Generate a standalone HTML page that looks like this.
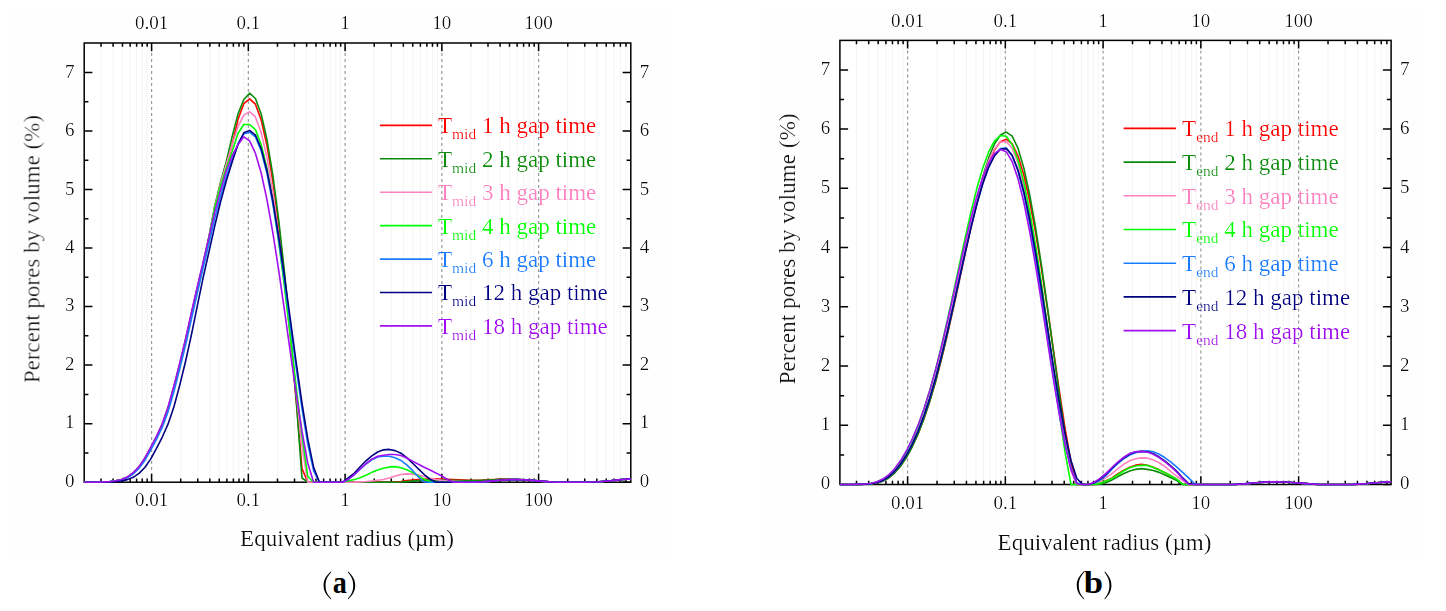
<!DOCTYPE html>
<html><head><meta charset="utf-8"><style>
html,body{margin:0;padding:0;background:#fff;}
svg{display:block;}
text{font-family:"Liberation Serif",serif;}
.tl{font-size:19px;fill:#111;filter:url(#thin);}
.at{font-size:23px;fill:#111;filter:url(#thin);}
.lg{font-size:23px;filter:url(#thin);}
.sb{font-size:15.5px;}
.cap{font-size:31px;fill:#000;}
.mg{stroke:#e8e8e8;stroke-width:1;stroke-dasharray:1 1;}
.Mg{stroke:#9a9a9a;stroke-width:1.2;stroke-dasharray:3 3;stroke-dashoffset:2;}
.cv path{fill:none;stroke-width:1.6;stroke-linejoin:round;}
.tk{stroke:#000;stroke-width:1.5;fill:none;}
.ax{stroke:#000;stroke-width:1.5;fill:none;}
</style></head><body>
<svg width="1446" height="611" viewBox="0 0 1446 611">
<defs><filter id="thin" x="-5%" y="-20%" width="110%" height="140%"><feComponentTransfer><feFuncA type="gamma" amplitude="1" exponent="1.7" offset="0"/></feComponentTransfer></filter></defs>
<rect x="11" y="7" width="658" height="553.5" fill="#fefefe"/>
<rect x="84.2" y="43.0" width="546.5999999999999" height="439.2" fill="#ffffff"/>
<line x1="101.01" y1="43" x2="101.01" y2="482.2" class="mg"/>
<line x1="113.1" y1="43" x2="113.1" y2="482.2" class="mg"/>
<line x1="122.48" y1="43" x2="122.48" y2="482.2" class="mg"/>
<line x1="130.14" y1="43" x2="130.14" y2="482.2" class="mg"/>
<line x1="136.61" y1="43" x2="136.61" y2="482.2" class="mg"/>
<line x1="142.22" y1="43" x2="142.22" y2="482.2" class="mg"/>
<line x1="147.17" y1="43" x2="147.17" y2="482.2" class="mg"/>
<line x1="180.72" y1="43" x2="180.72" y2="482.2" class="mg"/>
<line x1="197.76" y1="43" x2="197.76" y2="482.2" class="mg"/>
<line x1="209.85" y1="43" x2="209.85" y2="482.2" class="mg"/>
<line x1="219.23" y1="43" x2="219.23" y2="482.2" class="mg"/>
<line x1="226.89" y1="43" x2="226.89" y2="482.2" class="mg"/>
<line x1="233.36" y1="43" x2="233.36" y2="482.2" class="mg"/>
<line x1="238.97" y1="43" x2="238.97" y2="482.2" class="mg"/>
<line x1="243.92" y1="43" x2="243.92" y2="482.2" class="mg"/>
<line x1="277.47" y1="43" x2="277.47" y2="482.2" class="mg"/>
<line x1="294.51" y1="43" x2="294.51" y2="482.2" class="mg"/>
<line x1="306.6" y1="43" x2="306.6" y2="482.2" class="mg"/>
<line x1="315.98" y1="43" x2="315.98" y2="482.2" class="mg"/>
<line x1="323.64" y1="43" x2="323.64" y2="482.2" class="mg"/>
<line x1="330.11" y1="43" x2="330.11" y2="482.2" class="mg"/>
<line x1="335.72" y1="43" x2="335.72" y2="482.2" class="mg"/>
<line x1="340.67" y1="43" x2="340.67" y2="482.2" class="mg"/>
<line x1="374.22" y1="43" x2="374.22" y2="482.2" class="mg"/>
<line x1="391.26" y1="43" x2="391.26" y2="482.2" class="mg"/>
<line x1="403.35" y1="43" x2="403.35" y2="482.2" class="mg"/>
<line x1="412.73" y1="43" x2="412.73" y2="482.2" class="mg"/>
<line x1="420.39" y1="43" x2="420.39" y2="482.2" class="mg"/>
<line x1="426.86" y1="43" x2="426.86" y2="482.2" class="mg"/>
<line x1="432.47" y1="43" x2="432.47" y2="482.2" class="mg"/>
<line x1="437.42" y1="43" x2="437.42" y2="482.2" class="mg"/>
<line x1="470.97" y1="43" x2="470.97" y2="482.2" class="mg"/>
<line x1="488.01" y1="43" x2="488.01" y2="482.2" class="mg"/>
<line x1="500.1" y1="43" x2="500.1" y2="482.2" class="mg"/>
<line x1="509.48" y1="43" x2="509.48" y2="482.2" class="mg"/>
<line x1="517.14" y1="43" x2="517.14" y2="482.2" class="mg"/>
<line x1="523.61" y1="43" x2="523.61" y2="482.2" class="mg"/>
<line x1="529.22" y1="43" x2="529.22" y2="482.2" class="mg"/>
<line x1="534.17" y1="43" x2="534.17" y2="482.2" class="mg"/>
<line x1="567.72" y1="43" x2="567.72" y2="482.2" class="mg"/>
<line x1="584.76" y1="43" x2="584.76" y2="482.2" class="mg"/>
<line x1="596.85" y1="43" x2="596.85" y2="482.2" class="mg"/>
<line x1="606.23" y1="43" x2="606.23" y2="482.2" class="mg"/>
<line x1="613.89" y1="43" x2="613.89" y2="482.2" class="mg"/>
<line x1="620.36" y1="43" x2="620.36" y2="482.2" class="mg"/>
<line x1="625.97" y1="43" x2="625.97" y2="482.2" class="mg"/>
<line x1="151.6" y1="43" x2="151.6" y2="482.2" class="Mg"/>
<line x1="248.35" y1="43" x2="248.35" y2="482.2" class="Mg"/>
<line x1="345.1" y1="43" x2="345.1" y2="482.2" class="Mg"/>
<line x1="441.85" y1="43" x2="441.85" y2="482.2" class="Mg"/>
<line x1="538.6" y1="43" x2="538.6" y2="482.2" class="Mg"/>
<path d="M101.01 482.2v-3.8M101.01 43v3.8M113.1 482.2v-3.8M113.1 43v3.8M122.48 482.2v-3.8M122.48 43v3.8M130.14 482.2v-3.8M130.14 43v3.8M136.61 482.2v-3.8M136.61 43v3.8M142.22 482.2v-3.8M142.22 43v3.8M147.17 482.2v-3.8M147.17 43v3.8M180.72 482.2v-3.8M180.72 43v3.8M197.76 482.2v-3.8M197.76 43v3.8M209.85 482.2v-3.8M209.85 43v3.8M219.23 482.2v-3.8M219.23 43v3.8M226.89 482.2v-3.8M226.89 43v3.8M233.36 482.2v-3.8M233.36 43v3.8M238.97 482.2v-3.8M238.97 43v3.8M243.92 482.2v-3.8M243.92 43v3.8M277.47 482.2v-3.8M277.47 43v3.8M294.51 482.2v-3.8M294.51 43v3.8M306.6 482.2v-3.8M306.6 43v3.8M315.98 482.2v-3.8M315.98 43v3.8M323.64 482.2v-3.8M323.64 43v3.8M330.11 482.2v-3.8M330.11 43v3.8M335.72 482.2v-3.8M335.72 43v3.8M340.67 482.2v-3.8M340.67 43v3.8M374.22 482.2v-3.8M374.22 43v3.8M391.26 482.2v-3.8M391.26 43v3.8M403.35 482.2v-3.8M403.35 43v3.8M412.73 482.2v-3.8M412.73 43v3.8M420.39 482.2v-3.8M420.39 43v3.8M426.86 482.2v-3.8M426.86 43v3.8M432.47 482.2v-3.8M432.47 43v3.8M437.42 482.2v-3.8M437.42 43v3.8M470.97 482.2v-3.8M470.97 43v3.8M488.01 482.2v-3.8M488.01 43v3.8M500.1 482.2v-3.8M500.1 43v3.8M509.48 482.2v-3.8M509.48 43v3.8M517.14 482.2v-3.8M517.14 43v3.8M523.61 482.2v-3.8M523.61 43v3.8M529.22 482.2v-3.8M529.22 43v3.8M534.17 482.2v-3.8M534.17 43v3.8M567.72 482.2v-3.8M567.72 43v3.8M584.76 482.2v-3.8M584.76 43v3.8M596.85 482.2v-3.8M596.85 43v3.8M606.23 482.2v-3.8M606.23 43v3.8M613.89 482.2v-3.8M613.89 43v3.8M620.36 482.2v-3.8M620.36 43v3.8M625.97 482.2v-3.8M625.97 43v3.8M151.6 482.2v-8.2M151.6 43v8.2M248.35 482.2v-8.2M248.35 43v8.2M345.1 482.2v-8.2M345.1 43v8.2M441.85 482.2v-8.2M441.85 43v8.2M538.6 482.2v-8.2M538.6 43v8.2M84.2 482.2h8.2M630.8 482.2h-8.2M84.2 452.93h4.2M630.8 452.93h-4.2M84.2 423.66h8.2M630.8 423.66h-8.2M84.2 394.39h4.2M630.8 394.39h-4.2M84.2 365.12h8.2M630.8 365.12h-8.2M84.2 335.85h4.2M630.8 335.85h-4.2M84.2 306.58h8.2M630.8 306.58h-8.2M84.2 277.31h4.2M630.8 277.31h-4.2M84.2 248.04h8.2M630.8 248.04h-8.2M84.2 218.77h4.2M630.8 218.77h-4.2M84.2 189.5h8.2M630.8 189.5h-8.2M84.2 160.23h4.2M630.8 160.23h-4.2M84.2 130.96h8.2M630.8 130.96h-8.2M84.2 101.69h4.2M630.8 101.69h-4.2M84.2 72.42h8.2M630.8 72.42h-8.2" class="tk"/>
<rect x="84.2" y="43" width="546.6" height="439.2" class="ax"/>
<g class="cv"><path d="M84.2 482.2 L86.64 482.2 L92.46 482.2 L98.28 482.17 L104.1 481.93 L109.92 481.53 L115.74 480.81 L121.56 479.52 L127.38 477.14 L133.2 473.07 L139.02 467.07 L144.84 458.66 L150.66 448.15 L156.48 437.14 L162.3 424.56 L168.12 408.14 L173.94 387.34 L179.76 364.48 L185.58 340.36 L191.4 314.31 L197.22 288.76 L203.04 264.36 L208.86 237.8 L214.68 207.6 L220.5 185.13 L226.32 166.64 L232.14 145.02 L237.96 119.56 L243.78 103.68 L249.6 98.88 L255.42 104.21 L261.24 120.05 L267.06 146.02 L272.88 181.48 L278.7 225.58 L284.52 277.29 L290.34 335.5 L296.16 399.17 L301.98 468.5 L307.8 482.2 L313.62 482.2 L319.44 482.2 L325.26 482.2 L331.08 482.2 L336.9 482.2 L342.72 482.2 L348.54 482.2 L354.36 482.2 L360.18 482.2 L366 482.2 L371.82 482.2 L377.64 482.2 L383.46 482.2 L389.28 482.2 L395.1 482.19 L400.92 481.5 L406.74 480.55 L412.56 480.04 L418.38 479.58 L424.2 479.19 L430.02 478.98 L435.84 478.98 L441.66 479.11 L447.48 479.37 L453.3 479.61 L459.12 479.83 L464.94 480.02 L470.76 480.18 L476.58 480.27 L482.4 480.15 L488.22 479.84 L494.04 479.46 L499.86 479.12 L505.68 478.95 L511.5 479.03 L517.32 479.39 L523.14 479.77 L528.96 480.14 L534.78 480.63 L540.6 481.17 L546.42 481.65 L552.24 482.01 L558.06 482.19 L563.88 482.2 L569.7 482.2 L575.52 482.2 L581.34 482.2 L587.16 482.2 L592.98 482.06 L598.8 481.74 L604.62 481.27 L610.44 480.7 L616.26 480.11 L622.08 479.56 L627.9 479.11 L630.8 478.93" stroke="#ff0000"/>
<path d="M84.2 482.2 L86.64 482.2 L92.46 482.2 L98.28 482.16 L104.1 481.92 L109.92 481.53 L115.74 480.79 L121.56 479.5 L127.38 477.08 L133.2 472.98 L139.02 466.96 L144.84 458.49 L150.66 447.97 L156.48 436.94 L162.3 424.32 L168.12 407.81 L173.94 386.96 L179.76 364.08 L185.58 339.92 L191.4 313.86 L197.22 288.33 L203.04 264 L208.86 237.06 L214.68 206.13 L220.5 182.38 L226.32 161.4 L232.14 136.59 L237.96 114.09 L243.78 99.55 L249.6 93.2 L255.42 98.48 L261.24 114.2 L267.06 140.05 L272.88 175.49 L278.7 219.84 L284.52 272.32 L290.34 332.22 L296.16 399.33 L301.98 477.98 L307.8 482.2 L313.62 482.2 L319.44 482.2 L325.26 482.2 L331.08 482.2 L336.9 482.2 L342.72 482.2 L348.54 482.2 L354.36 482.2 L360.18 482.2 L366 482.2 L371.82 482.2 L377.64 482.2 L383.46 482.2 L389.28 482.2 L395.1 482.2 L400.92 482 L406.74 481.58 L412.56 481.09 L418.38 480.54 L424.2 480.27 L430.02 480.15 L435.84 480.15 L441.66 480.15 L447.48 480.22 L453.3 480.32 L459.12 480.43 L464.94 480.51 L470.76 480.59 L476.58 480.6 L482.4 480.42 L488.22 480.12 L494.04 479.75 L499.86 479.41 L505.68 479.2 L511.5 479.2 L517.32 479.45 L523.14 479.77 L528.96 480.14 L534.78 480.63 L540.6 481.17 L546.42 481.65 L552.24 482.01 L558.06 482.19 L563.88 482.2 L569.7 482.2 L575.52 482.2 L581.34 482.2 L587.16 482.2 L592.98 482.06 L598.8 481.74 L604.62 481.27 L610.44 480.7 L616.26 480.11 L622.08 479.56 L627.9 479.11 L630.8 478.93" stroke="#0a8c0a"/>
<path d="M84.2 482.2 L86.64 482.2 L92.46 482.2 L98.28 482.17 L104.1 481.93 L109.92 481.53 L115.74 480.81 L121.56 479.52 L127.38 477.14 L133.2 473.07 L139.02 467.07 L144.84 458.66 L150.66 448.15 L156.48 437.14 L162.3 424.56 L168.12 408.14 L173.94 387.34 L179.76 364.48 L185.58 340.36 L191.4 314.31 L197.22 288.76 L203.04 264.36 L208.86 237.85 L214.68 207.74 L220.5 184.08 L226.32 164.26 L232.14 145.29 L237.96 126.6 L243.78 115.17 L249.6 111.64 L255.42 116.93 L261.24 132.6 L267.06 158.13 L272.88 192.64 L278.7 234.94 L284.52 283.52 L290.34 336.55 L296.16 391.84 L301.98 446.43 L307.8 482.2 L313.62 482.2 L319.44 482.2 L325.26 482.2 L331.08 482.2 L336.9 482.2 L342.72 482.2 L348.54 482.2 L354.36 482.15 L360.18 481.9 L366 481.55 L371.82 480.97 L377.64 480.32 L383.46 479.55 L389.28 478.03 L395.1 476.03 L400.92 474.47 L406.74 473.9 L412.56 474.09 L418.38 474.91 L424.2 476.58 L430.02 478.35 L435.84 479.56 L441.66 480.4 L447.48 480.93 L453.3 481.29 L459.12 481.57 L464.94 481.84 L470.76 482.06 L476.58 482.13 L482.4 481.84 L488.22 481.38 L494.04 480.83 L499.86 480.29 L505.68 479.86 L511.5 479.61 L517.32 479.58 L523.14 479.77 L528.96 480.14 L534.78 480.63 L540.6 481.17 L546.42 481.65 L552.24 482.01 L558.06 482.19 L563.88 482.2 L569.7 482.2 L575.52 482.2 L581.34 482.2 L587.16 482.2 L592.98 482.06 L598.8 481.74 L604.62 481.27 L610.44 480.7 L616.26 480.11 L622.08 479.56 L627.9 479.11 L630.8 478.93" stroke="#ff80c0"/>
<path d="M84.2 482.2 L86.64 482.2 L92.46 482.2 L98.28 482.17 L104.1 481.94 L109.92 481.55 L115.74 480.84 L121.56 479.58 L127.38 477.24 L133.2 473.25 L139.02 467.3 L144.84 459 L150.66 448.53 L156.48 437.53 L162.3 425.04 L168.12 408.79 L173.94 388.1 L179.76 365.27 L185.58 341.24 L191.4 315.21 L197.22 289.63 L203.04 265.18 L208.86 238.77 L214.68 208.36 L220.5 186 L226.32 168.22 L232.14 151.66 L237.96 133.53 L243.78 124.52 L249.6 124.52 L255.42 129.59 L261.24 144.6 L267.06 168.98 L272.88 201.8 L278.7 241.76 L284.52 287.24 L290.34 336.3 L296.16 386.59 L301.98 435.11 L307.8 476.51 L313.62 482.2 L319.44 482.2 L325.26 482.2 L331.08 482.2 L336.9 482.2 L342.72 482.2 L348.54 480.76 L354.36 479.46 L360.18 477.79 L366 475.28 L371.82 472.36 L377.64 470.07 L383.46 468.34 L389.28 466.92 L395.1 466.66 L400.92 467.68 L406.74 469.73 L412.56 472.5 L418.38 475.89 L424.2 479.16 L430.02 481.52 L435.84 482.2 L441.66 482.2 L447.48 482.2 L453.3 482.2 L459.12 482.2 L464.94 482.2 L470.76 482.2 L476.58 482.13 L482.4 481.84 L488.22 481.38 L494.04 480.83 L499.86 480.29 L505.68 479.86 L511.5 479.61 L517.32 479.58 L523.14 479.77 L528.96 480.14 L534.78 480.63 L540.6 481.17 L546.42 481.65 L552.24 482.01 L558.06 482.19 L563.88 482.2 L569.7 482.2 L575.52 482.2 L581.34 482.2 L587.16 482.2 L592.98 482.06 L598.8 481.74 L604.62 481.27 L610.44 480.7 L616.26 480.11 L622.08 479.56 L627.9 479.11 L630.8 478.93" stroke="#00ff00"/>
<path d="M84.2 482.2 L86.64 482.2 L92.46 482.2 L98.28 482.19 L104.1 481.99 L109.92 481.62 L115.74 480.99 L121.56 479.8 L127.38 477.7 L133.2 474.01 L139.02 468.32 L144.84 460.47 L150.66 450.21 L156.48 439.28 L162.3 427.16 L168.12 411.64 L173.94 391.5 L179.76 368.84 L185.58 345.14 L191.4 319.26 L197.22 293.53 L203.04 268.65 L208.86 244.16 L214.68 218.8 L220.5 196.11 L226.32 176.6 L232.14 159.72 L237.96 143.97 L243.78 133.9 L249.6 132.13 L255.42 136.9 L261.24 150.99 L267.06 173.75 L272.88 204.09 L278.7 240.56 L284.52 281.4 L290.34 324.54 L296.16 367.71 L301.98 408.43 L307.8 443.96 L313.62 470.94 L319.44 482.2 L325.26 482.2 L331.08 482.2 L336.9 482.2 L342.72 482.2 L348.54 479.19 L354.36 474.63 L360.18 469.23 L366 463.98 L371.82 459.74 L377.64 457.02 L383.46 456.24 L389.28 456.21 L395.1 457.83 L400.92 460.46 L406.74 464.84 L412.56 470.42 L418.38 477 L424.2 482.04 L430.02 482.2 L435.84 482.2 L441.66 482.2 L447.48 482.2 L453.3 482.2 L459.12 482.2 L464.94 482.2 L470.76 482.2 L476.58 482.13 L482.4 481.84 L488.22 481.38 L494.04 480.83 L499.86 480.29 L505.68 479.86 L511.5 479.61 L517.32 479.58 L523.14 479.77 L528.96 480.14 L534.78 480.63 L540.6 481.17 L546.42 481.65 L552.24 482.01 L558.06 482.19 L563.88 482.2 L569.7 482.2 L575.52 482.2 L581.34 482.2 L587.16 482.2 L592.98 482.06 L598.8 481.74 L604.62 481.27 L610.44 480.7 L616.26 480.11 L622.08 479.56 L627.9 479.11 L630.8 478.93" stroke="#1a7cff"/>
<path d="M84.2 482.2 L86.64 482.2 L92.46 482.2 L98.28 482.2 L104.1 482.17 L109.92 481.95 L115.74 481.56 L121.56 480.87 L127.38 479.62 L133.2 477.34 L139.02 473.41 L144.84 467.51 L150.66 459.13 L156.48 448.39 L162.3 437.03 L168.12 423.91 L173.94 406.72 L179.76 385.16 L185.58 361.3 L191.4 334.94 L197.22 306.35 L203.04 278.2 L208.86 252.31 L214.68 226.4 L220.5 201.95 L226.32 180.72 L232.14 161.94 L237.96 144.55 L243.78 132.73 L249.6 130.37 L255.42 135.03 L261.24 148.8 L267.06 171.05 L272.88 200.76 L278.7 236.56 L284.52 276.74 L290.34 319.36 L296.16 362.24 L301.98 403.02 L307.8 439.09 L313.62 467.36 L319.44 482.2 L325.26 482.2 L331.08 482.2 L336.9 482.2 L342.72 482.2 L348.54 477.57 L354.36 473.09 L360.18 466.72 L366 460.81 L371.82 455.93 L377.64 451.98 L383.46 449.85 L389.28 449.42 L395.1 450.62 L400.92 453.23 L406.74 457.65 L412.56 463.04 L418.38 468.94 L424.2 474.51 L430.02 479.13 L435.84 482.2 L441.66 482.2 L447.48 482.2 L453.3 482.2 L459.12 482.2 L464.94 482.2 L470.76 482.2 L476.58 482.13 L482.4 481.84 L488.22 481.38 L494.04 480.83 L499.86 480.29 L505.68 479.86 L511.5 479.61 L517.32 479.58 L523.14 479.77 L528.96 480.14 L534.78 480.63 L540.6 481.17 L546.42 481.65 L552.24 482.01 L558.06 482.19 L563.88 482.2 L569.7 482.2 L575.52 482.2 L581.34 482.2 L587.16 482.2 L592.98 482.06 L598.8 481.74 L604.62 481.27 L610.44 480.7 L616.26 480.11 L622.08 479.56 L627.9 479.11 L630.8 478.93" stroke="#000080"/>
<path d="M84.2 482.2 L86.64 482.2 L92.46 482.2 L98.28 482.16 L104.1 481.9 L109.92 481.5 L115.74 480.74 L121.56 479.41 L127.38 476.92 L133.2 472.71 L139.02 466.6 L144.84 457.98 L150.66 447.4 L156.48 436.35 L162.3 423.59 L168.12 406.83 L173.94 385.81 L179.76 362.89 L185.58 338.61 L191.4 312.52 L197.22 287.03 L203.04 262.36 L208.86 237.63 L214.68 212.54 L220.5 190.66 L226.32 171.01 L232.14 155.97 L237.96 144.69 L243.78 136.83 L249.6 140.94 L255.42 153.23 L261.24 173.21 L267.06 200.12 L272.88 232.9 L278.7 270.26 L284.52 310.65 L290.34 352.33 L296.16 393.29 L301.98 431.24 L307.8 463.19 L313.62 482.2 L319.44 482.2 L325.26 482.2 L331.08 482.2 L336.9 482.2 L342.72 482.2 L348.54 479.18 L354.36 474.53 L360.18 469 L366 463.59 L371.82 459.15 L377.64 456.2 L383.46 455.18 L389.28 454.51 L395.1 454.5 L400.92 455.58 L406.74 457.97 L412.56 461.14 L418.38 464.29 L424.2 467.18 L430.02 469.99 L435.84 472.91 L441.66 476.05 L447.48 479.53 L453.3 482.2 L459.12 482.2 L464.94 482.2 L470.76 482.2 L476.58 482.13 L482.4 481.84 L488.22 481.38 L494.04 480.83 L499.86 480.29 L505.68 479.86 L511.5 479.61 L517.32 479.58 L523.14 479.77 L528.96 480.14 L534.78 480.63 L540.6 481.17 L546.42 481.65 L552.24 482.01 L558.06 482.19 L563.88 482.2 L569.7 482.2 L575.52 482.2 L581.34 482.2 L587.16 482.2 L592.98 482.06 L598.8 481.74 L604.62 481.27 L610.44 480.7 L616.26 480.11 L622.08 479.56 L627.9 479.11 L630.8 478.93" stroke="#a010f0"/></g>
<text x="151.6" y="29.4" class="tl" text-anchor="middle">0.01</text>
<text x="151.6" y="506.2" class="tl" text-anchor="middle">0.01</text>
<text x="248.35" y="29.4" class="tl" text-anchor="middle">0.1</text>
<text x="248.35" y="506.2" class="tl" text-anchor="middle">0.1</text>
<text x="345.1" y="29.4" class="tl" text-anchor="middle">1</text>
<text x="345.1" y="506.2" class="tl" text-anchor="middle">1</text>
<text x="441.85" y="29.4" class="tl" text-anchor="middle">10</text>
<text x="441.85" y="506.2" class="tl" text-anchor="middle">10</text>
<text x="538.6" y="29.4" class="tl" text-anchor="middle">100</text>
<text x="538.6" y="506.2" class="tl" text-anchor="middle">100</text>
<text x="74.6" y="486.66" class="tl" text-anchor="end">0</text>
<text x="639.8" y="486.66" class="tl" text-anchor="start">0</text>
<text x="74.6" y="428.24" class="tl" text-anchor="end">1</text>
<text x="639.8" y="428.24" class="tl" text-anchor="start">1</text>
<text x="74.6" y="369.82" class="tl" text-anchor="end">2</text>
<text x="639.8" y="369.82" class="tl" text-anchor="start">2</text>
<text x="74.6" y="311.4" class="tl" text-anchor="end">3</text>
<text x="639.8" y="311.4" class="tl" text-anchor="start">3</text>
<text x="74.6" y="252.98" class="tl" text-anchor="end">4</text>
<text x="639.8" y="252.98" class="tl" text-anchor="start">4</text>
<text x="74.6" y="194.56" class="tl" text-anchor="end">5</text>
<text x="639.8" y="194.56" class="tl" text-anchor="start">5</text>
<text x="74.6" y="136.14" class="tl" text-anchor="end">6</text>
<text x="639.8" y="136.14" class="tl" text-anchor="start">6</text>
<text x="74.6" y="77.72" class="tl" text-anchor="end">7</text>
<text x="639.8" y="77.72" class="tl" text-anchor="start">7</text>
<line x1="379.9" y1="125.4" x2="432" y2="125.4" stroke="#ff0000" stroke-width="1.6"/>
<text x="438" y="133.3" class="lg" fill="#ff0000">T<tspan class="sb" dy="6">mid</tspan><tspan dy="-6"> 1 h gap time</tspan></text>
<line x1="379.9" y1="158.82" x2="432" y2="158.82" stroke="#0a8c0a" stroke-width="1.6"/>
<text x="438" y="166.72" class="lg" fill="#0a8c0a">T<tspan class="sb" dy="6">mid</tspan><tspan dy="-6"> 2 h gap time</tspan></text>
<line x1="379.9" y1="192.24" x2="432" y2="192.24" stroke="#ff80c0" stroke-width="1.6"/>
<text x="438" y="200.14" class="lg" fill="#ff80c0">T<tspan class="sb" dy="6">mid</tspan><tspan dy="-6"> 3 h gap time</tspan></text>
<line x1="379.9" y1="225.66" x2="432" y2="225.66" stroke="#00ff00" stroke-width="1.6"/>
<text x="438" y="233.56" class="lg" fill="#00ff00">T<tspan class="sb" dy="6">mid</tspan><tspan dy="-6"> 4 h gap time</tspan></text>
<line x1="379.9" y1="259.08" x2="432" y2="259.08" stroke="#1a7cff" stroke-width="1.6"/>
<text x="438" y="266.98" class="lg" fill="#1a7cff">T<tspan class="sb" dy="6">mid</tspan><tspan dy="-6"> 6 h gap time</tspan></text>
<line x1="379.9" y1="292.5" x2="432" y2="292.5" stroke="#000080" stroke-width="1.6"/>
<text x="438" y="300.4" class="lg" fill="#000080">T<tspan class="sb" dy="6">mid</tspan><tspan dy="-6"> 12 h gap time</tspan></text>
<line x1="379.9" y1="325.92" x2="432" y2="325.92" stroke="#a010f0" stroke-width="1.6"/>
<text x="438" y="333.82" class="lg" fill="#a010f0">T<tspan class="sb" dy="6">mid</tspan><tspan dy="-6"> 18 h gap time</tspan></text>
<rect x="765" y="7" width="658.5" height="553.5" fill="#fefefe"/>
<rect x="839.9" y="40.4" width="551.1999999999999" height="444.1" fill="#ffffff"/>
<line x1="856.49" y1="40.4" x2="856.49" y2="484.5" class="mg"/>
<line x1="868.7" y1="40.4" x2="868.7" y2="484.5" class="mg"/>
<line x1="878.17" y1="40.4" x2="878.17" y2="484.5" class="mg"/>
<line x1="885.91" y1="40.4" x2="885.91" y2="484.5" class="mg"/>
<line x1="892.46" y1="40.4" x2="892.46" y2="484.5" class="mg"/>
<line x1="898.13" y1="40.4" x2="898.13" y2="484.5" class="mg"/>
<line x1="903.13" y1="40.4" x2="903.13" y2="484.5" class="mg"/>
<line x1="937.03" y1="40.4" x2="937.03" y2="484.5" class="mg"/>
<line x1="954.24" y1="40.4" x2="954.24" y2="484.5" class="mg"/>
<line x1="966.45" y1="40.4" x2="966.45" y2="484.5" class="mg"/>
<line x1="975.92" y1="40.4" x2="975.92" y2="484.5" class="mg"/>
<line x1="983.66" y1="40.4" x2="983.66" y2="484.5" class="mg"/>
<line x1="990.21" y1="40.4" x2="990.21" y2="484.5" class="mg"/>
<line x1="995.88" y1="40.4" x2="995.88" y2="484.5" class="mg"/>
<line x1="1000.88" y1="40.4" x2="1000.88" y2="484.5" class="mg"/>
<line x1="1034.78" y1="40.4" x2="1034.78" y2="484.5" class="mg"/>
<line x1="1051.99" y1="40.4" x2="1051.99" y2="484.5" class="mg"/>
<line x1="1064.2" y1="40.4" x2="1064.2" y2="484.5" class="mg"/>
<line x1="1073.67" y1="40.4" x2="1073.67" y2="484.5" class="mg"/>
<line x1="1081.41" y1="40.4" x2="1081.41" y2="484.5" class="mg"/>
<line x1="1087.96" y1="40.4" x2="1087.96" y2="484.5" class="mg"/>
<line x1="1093.63" y1="40.4" x2="1093.63" y2="484.5" class="mg"/>
<line x1="1098.63" y1="40.4" x2="1098.63" y2="484.5" class="mg"/>
<line x1="1132.53" y1="40.4" x2="1132.53" y2="484.5" class="mg"/>
<line x1="1149.74" y1="40.4" x2="1149.74" y2="484.5" class="mg"/>
<line x1="1161.95" y1="40.4" x2="1161.95" y2="484.5" class="mg"/>
<line x1="1171.42" y1="40.4" x2="1171.42" y2="484.5" class="mg"/>
<line x1="1179.16" y1="40.4" x2="1179.16" y2="484.5" class="mg"/>
<line x1="1185.71" y1="40.4" x2="1185.71" y2="484.5" class="mg"/>
<line x1="1191.38" y1="40.4" x2="1191.38" y2="484.5" class="mg"/>
<line x1="1196.38" y1="40.4" x2="1196.38" y2="484.5" class="mg"/>
<line x1="1230.28" y1="40.4" x2="1230.28" y2="484.5" class="mg"/>
<line x1="1247.49" y1="40.4" x2="1247.49" y2="484.5" class="mg"/>
<line x1="1259.7" y1="40.4" x2="1259.7" y2="484.5" class="mg"/>
<line x1="1269.17" y1="40.4" x2="1269.17" y2="484.5" class="mg"/>
<line x1="1276.91" y1="40.4" x2="1276.91" y2="484.5" class="mg"/>
<line x1="1283.46" y1="40.4" x2="1283.46" y2="484.5" class="mg"/>
<line x1="1289.13" y1="40.4" x2="1289.13" y2="484.5" class="mg"/>
<line x1="1294.13" y1="40.4" x2="1294.13" y2="484.5" class="mg"/>
<line x1="1328.03" y1="40.4" x2="1328.03" y2="484.5" class="mg"/>
<line x1="1345.24" y1="40.4" x2="1345.24" y2="484.5" class="mg"/>
<line x1="1357.45" y1="40.4" x2="1357.45" y2="484.5" class="mg"/>
<line x1="1366.92" y1="40.4" x2="1366.92" y2="484.5" class="mg"/>
<line x1="1374.66" y1="40.4" x2="1374.66" y2="484.5" class="mg"/>
<line x1="1381.21" y1="40.4" x2="1381.21" y2="484.5" class="mg"/>
<line x1="1386.88" y1="40.4" x2="1386.88" y2="484.5" class="mg"/>
<line x1="907.6" y1="40.4" x2="907.6" y2="484.5" class="Mg"/>
<line x1="1005.35" y1="40.4" x2="1005.35" y2="484.5" class="Mg"/>
<line x1="1103.1" y1="40.4" x2="1103.1" y2="484.5" class="Mg"/>
<line x1="1200.85" y1="40.4" x2="1200.85" y2="484.5" class="Mg"/>
<line x1="1298.6" y1="40.4" x2="1298.6" y2="484.5" class="Mg"/>
<path d="M856.49 484.5v-3.8M856.49 40.4v3.8M868.7 484.5v-3.8M868.7 40.4v3.8M878.17 484.5v-3.8M878.17 40.4v3.8M885.91 484.5v-3.8M885.91 40.4v3.8M892.46 484.5v-3.8M892.46 40.4v3.8M898.13 484.5v-3.8M898.13 40.4v3.8M903.13 484.5v-3.8M903.13 40.4v3.8M937.03 484.5v-3.8M937.03 40.4v3.8M954.24 484.5v-3.8M954.24 40.4v3.8M966.45 484.5v-3.8M966.45 40.4v3.8M975.92 484.5v-3.8M975.92 40.4v3.8M983.66 484.5v-3.8M983.66 40.4v3.8M990.21 484.5v-3.8M990.21 40.4v3.8M995.88 484.5v-3.8M995.88 40.4v3.8M1000.88 484.5v-3.8M1000.88 40.4v3.8M1034.78 484.5v-3.8M1034.78 40.4v3.8M1051.99 484.5v-3.8M1051.99 40.4v3.8M1064.2 484.5v-3.8M1064.2 40.4v3.8M1073.67 484.5v-3.8M1073.67 40.4v3.8M1081.41 484.5v-3.8M1081.41 40.4v3.8M1087.96 484.5v-3.8M1087.96 40.4v3.8M1093.63 484.5v-3.8M1093.63 40.4v3.8M1098.63 484.5v-3.8M1098.63 40.4v3.8M1132.53 484.5v-3.8M1132.53 40.4v3.8M1149.74 484.5v-3.8M1149.74 40.4v3.8M1161.95 484.5v-3.8M1161.95 40.4v3.8M1171.42 484.5v-3.8M1171.42 40.4v3.8M1179.16 484.5v-3.8M1179.16 40.4v3.8M1185.71 484.5v-3.8M1185.71 40.4v3.8M1191.38 484.5v-3.8M1191.38 40.4v3.8M1196.38 484.5v-3.8M1196.38 40.4v3.8M1230.28 484.5v-3.8M1230.28 40.4v3.8M1247.49 484.5v-3.8M1247.49 40.4v3.8M1259.7 484.5v-3.8M1259.7 40.4v3.8M1269.17 484.5v-3.8M1269.17 40.4v3.8M1276.91 484.5v-3.8M1276.91 40.4v3.8M1283.46 484.5v-3.8M1283.46 40.4v3.8M1289.13 484.5v-3.8M1289.13 40.4v3.8M1294.13 484.5v-3.8M1294.13 40.4v3.8M1328.03 484.5v-3.8M1328.03 40.4v3.8M1345.24 484.5v-3.8M1345.24 40.4v3.8M1357.45 484.5v-3.8M1357.45 40.4v3.8M1366.92 484.5v-3.8M1366.92 40.4v3.8M1374.66 484.5v-3.8M1374.66 40.4v3.8M1381.21 484.5v-3.8M1381.21 40.4v3.8M1386.88 484.5v-3.8M1386.88 40.4v3.8M907.6 484.5v-8.2M907.6 40.4v8.2M1005.35 484.5v-8.2M1005.35 40.4v8.2M1103.1 484.5v-8.2M1103.1 40.4v8.2M1200.85 484.5v-8.2M1200.85 40.4v8.2M1298.6 484.5v-8.2M1298.6 40.4v8.2M839.9 484.5h8.2M1391.1 484.5h-8.2M839.9 454.88h4.2M1391.1 454.88h-4.2M839.9 425.27h8.2M1391.1 425.27h-8.2M839.9 395.65h4.2M1391.1 395.65h-4.2M839.9 366.04h8.2M1391.1 366.04h-8.2M839.9 336.43h4.2M1391.1 336.43h-4.2M839.9 306.81h8.2M1391.1 306.81h-8.2M839.9 277.2h4.2M1391.1 277.2h-4.2M839.9 247.58h8.2M1391.1 247.58h-8.2M839.9 217.97h4.2M1391.1 217.97h-4.2M839.9 188.35h8.2M1391.1 188.35h-8.2M839.9 158.74h4.2M1391.1 158.74h-4.2M839.9 129.12h8.2M1391.1 129.12h-8.2M839.9 99.5h4.2M1391.1 99.5h-4.2M839.9 69.89h8.2M1391.1 69.89h-8.2" class="tk"/>
<rect x="839.9" y="40.4" width="551.2" height="444.1" class="ax"/>
<g class="cv"><path d="M839.9 484.5 L841.66 484.5 L847.54 484.49 L853.42 484.46 L859.3 484.39 L865.18 484.22 L871.06 483.8 L876.94 482.87 L882.82 481.01 L888.7 477.76 L894.58 472.79 L900.46 465.96 L906.34 457.23 L912.22 446.52 L918.1 433.69 L923.98 418.56 L929.86 401 L935.74 380.98 L941.62 358.61 L947.5 334.17 L953.38 308.12 L959.26 281.11 L965.14 253.93 L971.02 227.52 L976.9 202.9 L982.78 181.1 L988.66 163.09 L994.54 149.72 L1000.42 141.62 L1006.3 139.22 L1012.18 143.79 L1018.06 156.03 L1023.94 175.51 L1029.82 201.54 L1035.7 233.22 L1041.58 269.38 L1047.46 308.68 L1053.34 349.55 L1059.22 390.22 L1065.1 428.61 L1070.98 461.97 L1076.86 484.36 L1082.74 484.5 L1088.62 484.5 L1094.5 484.5 L1100.38 483.18 L1106.26 480.76 L1112.14 477.97 L1118.02 473.64 L1123.9 470.25 L1129.78 467.26 L1135.66 465.14 L1141.54 464.18 L1147.42 465.17 L1153.3 467.17 L1159.18 469.84 L1165.06 472.8 L1170.94 475.83 L1176.82 479.27 L1182.7 484.3 L1188.58 484.5 L1194.46 484.5 L1200.34 484.5 L1206.22 484.5 L1212.1 484.5 L1217.98 484.5 L1223.86 484.5 L1229.74 484.5 L1235.62 484.37 L1241.5 484.04 L1247.38 483.58 L1253.26 483.05 L1259.14 482.54 L1265.02 482.13 L1270.9 481.89 L1276.78 481.84 L1282.66 481.98 L1288.54 482.27 L1294.42 482.68 L1300.3 483.15 L1306.18 483.62 L1312.06 484.04 L1317.94 484.34 L1323.82 484.49 L1329.7 484.5 L1335.58 484.5 L1341.46 484.5 L1347.34 484.5 L1353.22 484.37 L1359.1 484.09 L1364.98 483.69 L1370.86 483.2 L1376.74 482.7 L1382.62 482.23 L1388.5 481.86 L1391.1 481.73" stroke="#ff0000"/>
<path d="M839.9 484.5 L841.66 484.5 L847.54 484.49 L853.42 484.46 L859.3 484.4 L865.18 484.24 L871.06 483.84 L876.94 482.94 L882.82 481.14 L888.7 477.97 L894.58 473.05 L900.46 466.25 L906.34 457.5 L912.22 446.75 L918.1 433.85 L923.98 418.61 L929.86 400.9 L935.74 380.68 L941.62 358.05 L947.5 333.27 L953.38 306.8 L959.26 279.28 L965.14 251.52 L971.02 224.47 L976.9 199.15 L982.78 176.61 L988.66 157.87 L994.54 143.78 L1000.42 135.04 L1006.3 132.08 L1012.18 136.21 L1018.06 148.45 L1023.94 168.39 L1029.82 195.33 L1035.7 228.32 L1041.58 266.16 L1047.46 307.45 L1053.34 350.52 L1059.22 393.47 L1065.1 433.98 L1070.98 468.7 L1076.86 484.5 L1082.74 484.5 L1088.62 484.5 L1094.5 484.5 L1100.38 484.17 L1106.26 482.5 L1112.14 479.93 L1118.02 476.57 L1123.9 473.54 L1129.78 471 L1135.66 469.34 L1141.54 468.63 L1147.42 469.38 L1153.3 470.44 L1159.18 472.38 L1165.06 474.97 L1170.94 477.66 L1176.82 480.49 L1182.7 484.5 L1188.58 484.5 L1194.46 484.5 L1200.34 484.5 L1206.22 484.5 L1212.1 484.5 L1217.98 484.5 L1223.86 484.5 L1229.74 484.5 L1235.62 484.37 L1241.5 484.04 L1247.38 483.58 L1253.26 483.05 L1259.14 482.54 L1265.02 482.13 L1270.9 481.89 L1276.78 481.84 L1282.66 481.98 L1288.54 482.27 L1294.42 482.68 L1300.3 483.15 L1306.18 483.62 L1312.06 484.04 L1317.94 484.34 L1323.82 484.49 L1329.7 484.5 L1335.58 484.5 L1341.46 484.5 L1347.34 484.5 L1353.22 484.37 L1359.1 484.09 L1364.98 483.69 L1370.86 483.2 L1376.74 482.7 L1382.62 482.23 L1388.5 481.86 L1391.1 481.73" stroke="#0a8c0a"/>
<path d="M839.9 484.5 L841.66 484.49 L847.54 484.48 L853.42 484.45 L859.3 484.36 L865.18 484.14 L871.06 483.62 L876.94 482.48 L882.82 480.3 L888.7 476.63 L894.58 471.19 L900.46 463.88 L906.34 454.67 L912.22 443.46 L918.1 430.09 L923.98 414.38 L929.86 396.25 L935.74 375.68 L941.62 352.83 L947.5 328.03 L953.38 301.78 L959.26 274.77 L965.14 247.85 L971.02 221.96 L976.9 198.13 L982.78 177.38 L988.66 160.64 L994.54 148.71 L1000.42 142.16 L1006.3 141.49 L1012.18 148.51 L1018.06 163.46 L1023.94 185.74 L1029.82 214.48 L1035.7 248.54 L1041.58 286.5 L1047.46 326.77 L1053.34 367.53 L1059.22 406.75 L1065.1 442.11 L1070.98 470.58 L1076.86 484.5 L1082.74 484.5 L1088.62 484.5 L1094.5 484.5 L1100.38 481.3 L1106.26 477.55 L1112.14 473.34 L1118.02 468.59 L1123.9 464.16 L1129.78 460.79 L1135.66 458.77 L1141.54 457.91 L1147.42 458.08 L1153.3 459.94 L1159.18 462.73 L1165.06 466.6 L1170.94 471.55 L1176.82 476.25 L1182.7 480.42 L1188.58 484.5 L1194.46 484.5 L1200.34 484.5 L1206.22 484.5 L1212.1 484.5 L1217.98 484.5 L1223.86 484.5 L1229.74 484.5 L1235.62 484.37 L1241.5 484.04 L1247.38 483.58 L1253.26 483.05 L1259.14 482.54 L1265.02 482.13 L1270.9 481.89 L1276.78 481.84 L1282.66 481.98 L1288.54 482.27 L1294.42 482.68 L1300.3 483.15 L1306.18 483.62 L1312.06 484.04 L1317.94 484.34 L1323.82 484.49 L1329.7 484.5 L1335.58 484.5 L1341.46 484.5 L1347.34 484.5 L1353.22 484.37 L1359.1 484.09 L1364.98 483.69 L1370.86 483.2 L1376.74 482.7 L1382.62 482.23 L1388.5 481.86 L1391.1 481.73" stroke="#ff80c0"/>
<path d="M839.9 484.49 L841.66 484.49 L847.54 484.48 L853.42 484.44 L859.3 484.33 L865.18 484.05 L871.06 483.41 L876.94 482.07 L882.82 479.55 L888.7 475.43 L894.58 469.48 L900.46 461.62 L906.34 451.82 L912.22 439.94 L918.1 425.83 L923.98 409.31 L929.86 390.31 L935.74 368.85 L941.62 345.14 L947.5 319.53 L953.38 292.6 L959.26 265.06 L965.14 237.82 L971.02 211.86 L976.9 188.22 L982.78 167.93 L988.66 151.93 L994.54 140.96 L1000.42 135.57 L1006.3 136.33 L1012.18 144.59 L1018.06 160.26 L1023.94 182.89 L1029.82 211.78 L1035.7 246.06 L1041.58 284.65 L1047.46 326.28 L1053.34 369.46 L1059.22 412.4 L1065.1 452.7 L1070.98 484.47 L1076.86 484.5 L1082.74 484.5 L1088.62 484.5 L1094.5 484.5 L1100.38 483.14 L1106.26 480.86 L1112.14 478.43 L1118.02 474.47 L1123.9 470.75 L1129.78 467.81 L1135.66 465.98 L1141.54 465.19 L1147.42 465.42 L1153.3 467.42 L1159.18 469.98 L1165.06 472.78 L1170.94 475.83 L1176.82 479.24 L1182.7 484.5 L1188.58 484.5 L1194.46 484.5 L1200.34 484.5 L1206.22 484.5 L1212.1 484.5 L1217.98 484.5 L1223.86 484.5 L1229.74 484.5 L1235.62 484.37 L1241.5 484.04 L1247.38 483.58 L1253.26 483.05 L1259.14 482.54 L1265.02 482.13 L1270.9 481.89 L1276.78 481.84 L1282.66 481.98 L1288.54 482.27 L1294.42 482.68 L1300.3 483.15 L1306.18 483.62 L1312.06 484.04 L1317.94 484.34 L1323.82 484.49 L1329.7 484.5 L1335.58 484.5 L1341.46 484.5 L1347.34 484.5 L1353.22 484.37 L1359.1 484.09 L1364.98 483.69 L1370.86 483.2 L1376.74 482.7 L1382.62 482.23 L1388.5 481.86 L1391.1 481.73" stroke="#00ff00"/>
<path d="M839.9 484.5 L841.66 484.49 L847.54 484.48 L853.42 484.45 L859.3 484.36 L865.18 484.15 L871.06 483.63 L876.94 482.52 L882.82 480.38 L888.7 476.78 L894.58 471.44 L900.46 464.27 L906.34 455.24 L912.22 444.24 L918.1 431.12 L923.98 415.71 L929.86 397.92 L935.74 377.74 L941.62 355.33 L947.5 331 L953.38 305.25 L959.26 278.75 L965.14 252.34 L971.02 226.94 L976.9 203.56 L982.78 183.2 L988.66 166.78 L994.54 155.07 L1000.42 148.66 L1006.3 148.04 L1012.18 155.47 L1018.06 171.22 L1023.94 194.56 L1029.82 224.36 L1035.7 259.2 L1041.58 297.39 L1047.46 337.03 L1053.34 376.09 L1059.22 412.45 L1065.1 443.95 L1070.98 468.32 L1076.86 482.77 L1082.74 484.5 L1088.62 484.5 L1094.5 483.01 L1100.38 479.89 L1106.26 475.3 L1112.14 468.96 L1118.02 463.34 L1123.9 458.57 L1129.78 455 L1135.66 452.67 L1141.54 451.33 L1147.42 450.8 L1153.3 451.86 L1159.18 454.2 L1165.06 457.77 L1170.94 462.18 L1176.82 467.15 L1182.7 472.33 L1188.58 477.8 L1194.46 483.48 L1200.34 484.5 L1206.22 484.5 L1212.1 484.5 L1217.98 484.5 L1223.86 484.5 L1229.74 484.5 L1235.62 484.37 L1241.5 484.04 L1247.38 483.58 L1253.26 483.05 L1259.14 482.54 L1265.02 482.13 L1270.9 481.89 L1276.78 481.84 L1282.66 481.98 L1288.54 482.27 L1294.42 482.68 L1300.3 483.15 L1306.18 483.62 L1312.06 484.04 L1317.94 484.34 L1323.82 484.49 L1329.7 484.5 L1335.58 484.5 L1341.46 484.5 L1347.34 484.5 L1353.22 484.37 L1359.1 484.09 L1364.98 483.69 L1370.86 483.2 L1376.74 482.7 L1382.62 482.23 L1388.5 481.86 L1391.1 481.73" stroke="#1a7cff"/>
<path d="M839.9 484.5 L841.66 484.49 L847.54 484.48 L853.42 484.45 L859.3 484.36 L865.18 484.15 L871.06 483.64 L876.94 482.52 L882.82 480.39 L888.7 476.79 L894.58 471.46 L900.46 464.31 L906.34 455.29 L912.22 444.31 L918.1 431.21 L923.98 415.83 L929.86 398.07 L935.74 377.93 L941.62 355.56 L947.5 331.27 L953.38 305.56 L959.26 279.11 L965.14 252.74 L971.02 227.39 L976.9 204.06 L982.78 183.73 L988.66 167.34 L994.54 155.65 L1000.42 149.25 L1006.3 148.59 L1012.18 155.54 L1018.06 170.3 L1023.94 192.2 L1029.82 220.28 L1035.7 253.28 L1041.58 289.7 L1047.46 327.85 L1053.34 365.92 L1059.22 402 L1065.1 434.16 L1070.98 460.39 L1076.86 478.44 L1082.74 484.5 L1088.62 484.5 L1094.5 482.5 L1100.38 478.77 L1106.26 473.87 L1112.14 467.97 L1118.02 462.53 L1123.9 457.71 L1129.78 453.98 L1135.66 451.82 L1141.54 451.34 L1147.42 451.86 L1153.3 453.79 L1159.18 457.04 L1165.06 461.21 L1170.94 466.05 L1176.82 471.39 L1182.7 477.92 L1188.58 483.6 L1194.46 484.5 L1200.34 484.5 L1206.22 484.5 L1212.1 484.5 L1217.98 484.5 L1223.86 484.5 L1229.74 484.5 L1235.62 484.37 L1241.5 484.04 L1247.38 483.58 L1253.26 483.05 L1259.14 482.54 L1265.02 482.13 L1270.9 481.89 L1276.78 481.84 L1282.66 481.98 L1288.54 482.27 L1294.42 482.68 L1300.3 483.15 L1306.18 483.62 L1312.06 484.04 L1317.94 484.34 L1323.82 484.49 L1329.7 484.5 L1335.58 484.5 L1341.46 484.5 L1347.34 484.5 L1353.22 484.37 L1359.1 484.09 L1364.98 483.69 L1370.86 483.2 L1376.74 482.7 L1382.62 482.23 L1388.5 481.86 L1391.1 481.73" stroke="#000080"/>
<path d="M839.9 484.49 L841.66 484.49 L847.54 484.47 L853.42 484.42 L859.3 484.3 L865.18 483.98 L871.06 483.26 L876.94 481.78 L882.82 479.08 L888.7 474.78 L894.58 468.7 L900.46 460.79 L906.34 450.99 L912.22 439.17 L918.1 425.17 L923.98 408.84 L929.86 390.13 L935.74 369.08 L941.62 345.93 L947.5 321.05 L953.38 295.03 L959.26 268.6 L965.14 242.64 L971.02 218.11 L976.9 196.01 L982.78 177.32 L988.66 162.89 L994.54 153.43 L1000.42 149.39 L1006.3 151.66 L1012.18 161.61 L1018.06 178.88 L1023.94 202.77 L1029.82 232.29 L1035.7 266.18 L1041.58 303 L1047.46 341.12 L1053.34 378.77 L1059.22 414.09 L1065.1 445.07 L1070.98 469.41 L1076.86 483.67 L1082.74 484.5 L1088.62 484.5 L1094.5 482.06 L1100.38 478.17 L1106.26 473.09 L1112.14 467.22 L1118.02 461.84 L1123.9 457.12 L1129.78 453.54 L1135.66 451.7 L1141.54 451.37 L1147.42 451.97 L1153.3 454.19 L1159.18 457.57 L1165.06 461.83 L1170.94 466.75 L1176.82 472.18 L1182.7 478.83 L1188.58 484.25 L1194.46 484.5 L1200.34 484.5 L1206.22 484.5 L1212.1 484.5 L1217.98 484.5 L1223.86 484.5 L1229.74 484.5 L1235.62 484.37 L1241.5 484.04 L1247.38 483.58 L1253.26 483.05 L1259.14 482.54 L1265.02 482.13 L1270.9 481.89 L1276.78 481.84 L1282.66 481.98 L1288.54 482.27 L1294.42 482.68 L1300.3 483.15 L1306.18 483.62 L1312.06 484.04 L1317.94 484.34 L1323.82 484.49 L1329.7 484.5 L1335.58 484.5 L1341.46 484.5 L1347.34 484.5 L1353.22 484.37 L1359.1 484.09 L1364.98 483.69 L1370.86 483.2 L1376.74 482.7 L1382.62 482.23 L1388.5 481.86 L1391.1 481.73" stroke="#a010f0"/></g>
<text x="907.6" y="26.8" class="tl" text-anchor="middle">0.01</text>
<text x="907.6" y="508.5" class="tl" text-anchor="middle">0.01</text>
<text x="1005.35" y="26.8" class="tl" text-anchor="middle">0.1</text>
<text x="1005.35" y="508.5" class="tl" text-anchor="middle">0.1</text>
<text x="1103.1" y="26.8" class="tl" text-anchor="middle">1</text>
<text x="1103.1" y="508.5" class="tl" text-anchor="middle">1</text>
<text x="1200.85" y="26.8" class="tl" text-anchor="middle">10</text>
<text x="1200.85" y="508.5" class="tl" text-anchor="middle">10</text>
<text x="1298.6" y="26.8" class="tl" text-anchor="middle">100</text>
<text x="1298.6" y="508.5" class="tl" text-anchor="middle">100</text>
<text x="830.3" y="488.96" class="tl" text-anchor="end">0</text>
<text x="1400.1" y="488.96" class="tl" text-anchor="start">0</text>
<text x="830.3" y="429.85" class="tl" text-anchor="end">1</text>
<text x="1400.1" y="429.85" class="tl" text-anchor="start">1</text>
<text x="830.3" y="370.74" class="tl" text-anchor="end">2</text>
<text x="1400.1" y="370.74" class="tl" text-anchor="start">2</text>
<text x="830.3" y="311.63" class="tl" text-anchor="end">3</text>
<text x="1400.1" y="311.63" class="tl" text-anchor="start">3</text>
<text x="830.3" y="252.52" class="tl" text-anchor="end">4</text>
<text x="1400.1" y="252.52" class="tl" text-anchor="start">4</text>
<text x="830.3" y="193.41" class="tl" text-anchor="end">5</text>
<text x="1400.1" y="193.41" class="tl" text-anchor="start">5</text>
<text x="830.3" y="134.3" class="tl" text-anchor="end">6</text>
<text x="1400.1" y="134.3" class="tl" text-anchor="start">6</text>
<text x="830.3" y="75.19" class="tl" text-anchor="end">7</text>
<text x="1400.1" y="75.19" class="tl" text-anchor="start">7</text>
<line x1="1123.6" y1="128.4" x2="1176.1" y2="128.4" stroke="#ff0000" stroke-width="1.6"/>
<text x="1182.1" y="136.3" class="lg" fill="#ff0000">T<tspan class="sb" dy="6">end</tspan><tspan dy="-6"> 1 h gap time</tspan></text>
<line x1="1123.6" y1="162.1" x2="1176.1" y2="162.1" stroke="#0a8c0a" stroke-width="1.6"/>
<text x="1182.1" y="170" class="lg" fill="#0a8c0a">T<tspan class="sb" dy="6">end</tspan><tspan dy="-6"> 2 h gap time</tspan></text>
<line x1="1123.6" y1="195.8" x2="1176.1" y2="195.8" stroke="#ff80c0" stroke-width="1.6"/>
<text x="1182.1" y="203.7" class="lg" fill="#ff80c0">T<tspan class="sb" dy="6">end</tspan><tspan dy="-6"> 3 h gap time</tspan></text>
<line x1="1123.6" y1="229.5" x2="1176.1" y2="229.5" stroke="#00ff00" stroke-width="1.6"/>
<text x="1182.1" y="237.4" class="lg" fill="#00ff00">T<tspan class="sb" dy="6">end</tspan><tspan dy="-6"> 4 h gap time</tspan></text>
<line x1="1123.6" y1="263.2" x2="1176.1" y2="263.2" stroke="#1a7cff" stroke-width="1.6"/>
<text x="1182.1" y="271.1" class="lg" fill="#1a7cff">T<tspan class="sb" dy="6">end</tspan><tspan dy="-6"> 6 h gap time</tspan></text>
<line x1="1123.6" y1="296.9" x2="1176.1" y2="296.9" stroke="#000080" stroke-width="1.6"/>
<text x="1182.1" y="304.8" class="lg" fill="#000080">T<tspan class="sb" dy="6">end</tspan><tspan dy="-6"> 12 h gap time</tspan></text>
<line x1="1123.6" y1="330.6" x2="1176.1" y2="330.6" stroke="#a010f0" stroke-width="1.6"/>
<text x="1182.1" y="338.5" class="lg" fill="#a010f0">T<tspan class="sb" dy="6">end</tspan><tspan dy="-6"> 18 h gap time</tspan></text>
<text x="347" y="546.2" class="at" text-anchor="middle">Equivalent radius (µm)</text>
<text x="1104.5" y="549.9" class="at" text-anchor="middle">Equivalent radius (µm)</text>
<text transform="translate(39.5 249.2) rotate(-90)" class="at" text-anchor="middle">Percent pores by volume (%)</text>
<text transform="translate(795 248.9) rotate(-90)" class="at" style="font-size:23.25px" text-anchor="middle">Percent pores by volume (%)</text>
<path d="M331.1 571.3 C325.8 576.38 323.6 579.76 323.6 585.4 C323.6 591.04 325.8 594.42 331.1 599.5 L331.2 598.6 C327.2 593.86 325.6 591.04 325.6 585.4 C325.6 579.76 327.2 576.94 331.2 572.2 Z" fill="#000"/>
<text transform="translate(332.8 592.7) scale(0.91 1)" class="cap" font-weight="bold">a</text>
<path d="M348 571.3 C353 576.38 355.2 579.76 355.2 585.4 C355.2 591.04 353 594.42 348 599.5 L347.9 598.6 C351.6 593.86 353.2 591.04 353.2 585.4 C353.2 579.76 351.6 576.94 347.9 572.2 Z" fill="#000"/>
<path d="M1084 571.3 C1079 576.38 1076.8 579.76 1076.8 585.4 C1076.8 591.04 1079 594.42 1084 599.5 L1084.1 598.6 C1080.4 593.86 1078.8 591.04 1078.8 585.4 C1078.8 579.76 1080.4 576.94 1084.1 572.2 Z" fill="#000"/>
<text transform="translate(1083.72 592.7) scale(1.12 1)" class="cap" font-weight="bold">b</text>
<path d="M1104.7 571.3 C1109.2 576.38 1111.4 579.76 1111.4 585.4 C1111.4 591.04 1109.2 594.42 1104.7 599.5 L1104.6 598.6 C1107.8 593.86 1109.4 591.04 1109.4 585.4 C1109.4 579.76 1107.8 576.94 1104.6 572.2 Z" fill="#000"/>
</svg>
</body></html>
